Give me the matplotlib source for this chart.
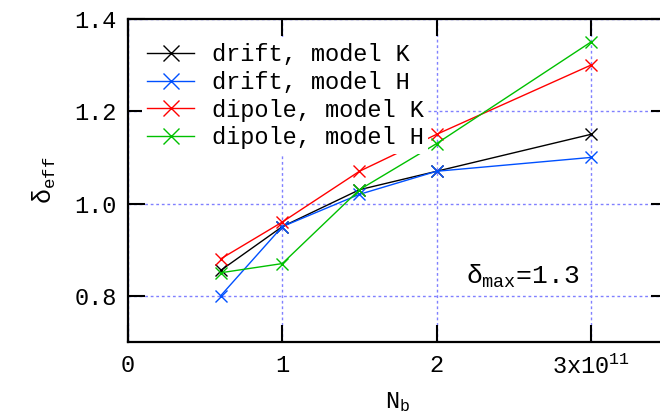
import matplotlib
matplotlib.use("Agg")
import matplotlib.pyplot as plt

nb = [0.6, 1.0, 1.5, 2.0, 3.0]
drift_K = [0.855, 0.95, 1.03, 1.07, 1.15]
drift_H = [0.80, 0.95, 1.02, 1.07, 1.10]
dipole_K = [0.88, 0.96, 1.07, 1.15, 1.30]
dipole_H = [0.85, 0.87, 1.03, 1.13, 1.35]
labels = ["drift, model K", "drift, model H", "dipole, model K", "dipole, model H"]
colors = ["#000000", "#0050ff", "#ff0000", "#00c000"]
xticks = [0, 1, 2, 3]
xticklabels = ["0", "1", "2", r"3x10$^{11}$"]
yticks = [0.8, 1.0, 1.2, 1.4]
yticklabels = ["0.8", "1.0", "1.2", "1.4"]

mono = "Liberation Mono"
plt.rcParams["font.family"] = [mono, "DejaVu Sans"]
plt.rcParams["mathtext.fontset"] = "custom"
plt.rcParams["mathtext.rm"] = mono
plt.rcParams["mathtext.it"] = mono

fig = plt.figure(figsize=(6.6, 4.13), dpi=100)
ax = fig.add_axes([128/660, 71/413, 540/660, 323/413])

series = [drift_K, drift_H, dipole_K, dipole_H]
for ys, lab, c in zip(series, labels, colors):
    ax.plot(nb, ys, color=c, lw=1.0, marker="x", ms=8.5, mew=1.0, label=lab, zorder=3)

ax.set_xlim(0, 3.5)
ax.set_ylim(0.7, 1.4)
ax.set_xticks(xticks)
ax.set_xticklabels(xticklabels)
ax.set_yticks(yticks)
ax.set_yticklabels(yticklabels)
ax.tick_params(direction="in", length=12, width=1.5, top=True, right=True,
               labelsize=17)
ax.tick_params(axis="x", pad=9)
ax.tick_params(axis="y", pad=8)
for s in ax.spines.values():
    s.set_linewidth(1.6)

ax.grid(True, color="#8080ff", lw=1.0, linestyle=(0, (2, 2)), zorder=1)
ax.set_axisbelow(True)

ax.set_xlabel(r"N$_\mathrm{b}$", fontsize=17, labelpad=8)
ax.set_ylabel(r"$\delta_\mathrm{eff}$", fontsize=18, labelpad=12)

ax.text(2.555, 0.842, r"$\delta_\mathrm{max}$=1.3", fontsize=19, ha="center", va="center",
        bbox=dict(facecolor="white", edgecolor="none", pad=2), zorder=2)

leg = ax.legend(loc="upper left", bbox_to_anchor=(0.0, 0.984), fontsize=17,
                frameon=True, fancybox=False,
                edgecolor="none", facecolor="white", framealpha=1.0,
                borderpad=0.2, labelspacing=0.2, handlelength=2.0,
                handletextpad=0.75, borderaxespad=0.6, markerscale=1.4)
leg.set_zorder(5)

fig.savefig("out.png", dpi=100)
